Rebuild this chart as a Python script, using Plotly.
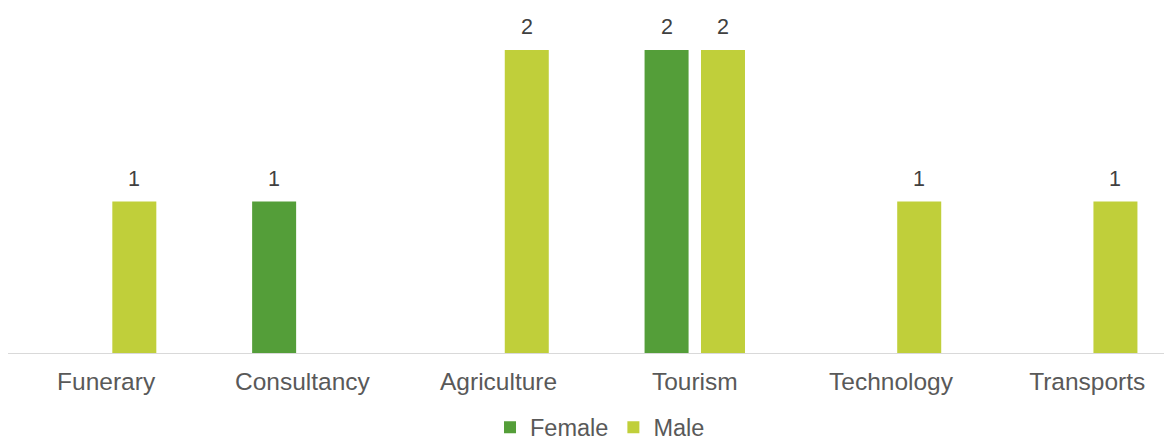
import plotly.graph_objects as go

categories = ["Funerary", "Consultancy", "Agriculture", "Tourism", "Technology", "Transports"]
female = [0, 1, 0, 2, 0, 0]
male = [1, 0, 2, 2, 1, 1]
series = [("Female", female, "#549E39", -28), ("Male", male, "#C0CF3A", 28)]

fig = go.Figure()
for name, vals, color, _ in series:
    fig.add_trace(go.Bar(x=categories, y=vals, name=name, marker=dict(color=color, line=dict(width=0))))

annotations = []
for name, vals, color, dx in series:
    for c, v in zip(categories, vals):
        if v:
            annotations.append(dict(x=c, y=v, text=str(v), showarrow=False, xshift=dx, yshift=9,
                                    yanchor="bottom", font=dict(size=21.5, color="#404040",
                                                                family="Liberation Sans, Arial, sans-serif")))

# page body has an 8px margin, so the figure is sized to the remaining area
fig.update_layout(
    width=1164, height=435,
    margin=dict(l=0, r=0, t=2, b=89.5, autoexpand=False),
    paper_bgcolor="white", plot_bgcolor="white",
    barmode="group", bargap=0.425, bargroupgap=0.22,
    font=dict(family="Liberation Sans, Arial, sans-serif", color="#595959"),
    showlegend=True,
    legend=dict(orientation="h", x=0.5086, xanchor="center", yref="paper", y=-0.2169, yanchor="middle",
                font=dict(size=23.5, color="#595959"), itemwidth=30, traceorder="normal"),
    annotations=annotations,
)
fig.update_xaxes(range=[-0.5, 5.432], showline=True, linecolor="#d9d9d9", linewidth=1, automargin=False,
                 ticks="", ticklabelstandoff=7, tickfont=dict(size=24.5, color="#595959"), showgrid=False)
fig.update_yaxes(range=[0, 2.264], showgrid=False, showticklabels=False, zeroline=False, showline=False,
                 automargin=False)

fig.write_html("out.html")
